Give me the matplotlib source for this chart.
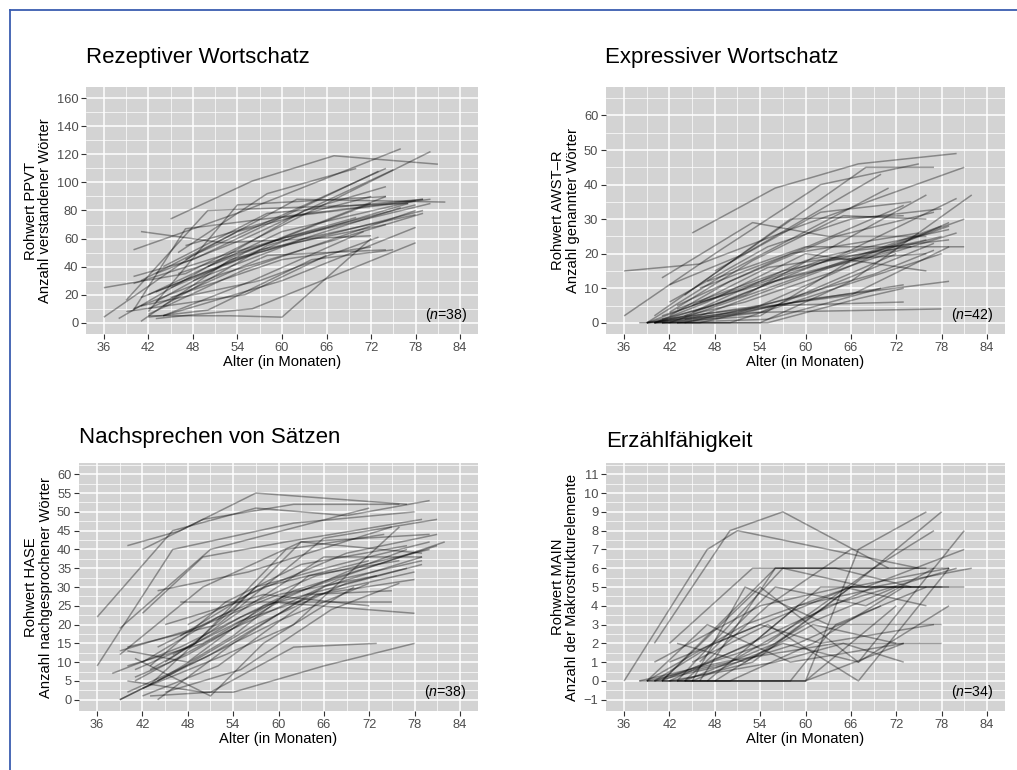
import matplotlib
matplotlib.use("Agg")
import matplotlib.pyplot as plt
from matplotlib.lines import Line2D
import numpy as np

plt.rcParams['font.family'] = ['Liberation Sans', 'DejaVu Sans']
plt.rcParams['mathtext.fontset'] = 'custom'
plt.rcParams['mathtext.rm'] = 'Liberation Sans'
plt.rcParams['mathtext.it'] = 'Liberation Sans:italic'

# ---------------- data: age in months / raw score per child ----------------
ppvt_age = [
    [45, 56, 67, 81], [40, 55, 76], [36, 48, 74], [36, 47, 80], [38, 50, 74],
    [41, 52, 72], [42, 53, 60, 72], [43, 56, 78], [44, 60, 78], [39, 50, 77],
    [42, 54, 74], [40, 47, 79], [41, 53, 79], [40, 48, 73], [42, 60, 78],
    [44, 58, 77], [43, 55, 72], [40, 52, 79], [41, 54, 76], [45, 62, 80],
    [42, 55, 78], [46, 60, 78], [43, 57, 74], [40, 52, 70], [44, 58, 79],
    [47, 62, 82], [42, 58, 74], [45, 60, 72], [41, 57, 73], [48, 63, 78],
    [43, 55, 75], [46, 58, 70], [44, 56, 71], [39, 55, 66], [41, 54, 72],
    [47, 60, 80], [50, 63, 74], [42, 50, 64, 75],
]
ppvt_raw = [
    [74, 101, 119, 113], [52, 80, 124], [4, 48, 110], [25, 35, 122], [3, 40, 90],
    [65, 57, 62], [5, 5, 4, 60], [3, 10, 57], [5, 30, 68], [16, 80, 85],
    [8, 84, 90], [9, 67, 88], [1, 45, 80], [33, 45, 108], [20, 65, 87],
    [12, 55, 85], [15, 50, 85], [10, 35, 78], [18, 45, 82], [25, 62, 85],
    [6, 38, 80], [35, 60, 84], [22, 52, 70], [28, 48, 75], [40, 78, 88],
    [45, 88, 86], [10, 48, 52], [18, 45, 54], [12, 30, 61], [30, 60, 77],
    [35, 60, 109], [50, 92, 110], [5, 30, 65], [8, 20, 48], [30, 65, 90],
    [55, 75, 88], [40, 80, 97], [4, 9, 45, 52],
]

awst_age = [
    [45, 56, 67, 80], [36, 46, 58, 81], [36, 48, 62, 75], [41, 53, 63, 76],
    [42, 52, 70], [40, 55, 68, 77], [39, 50, 71], [40, 52, 76], [39, 48, 65, 80],
    [41, 54, 66, 82], [43, 56, 73], [44, 58, 73], [39, 54, 79], [40, 46, 62, 81],
    [42, 55, 78], [45, 60, 79], [41, 52, 66, 79], [40, 50, 64, 78], [43, 54, 72],
    [39, 49, 61, 79], [44, 56, 73], [41, 53, 78], [42, 50, 64, 77], [46, 58, 75],
    [40, 52, 68, 80], [43, 57, 76], [38, 46, 56, 73], [44, 60, 77], [47, 60, 81],
    [42, 55, 66, 78], [40, 47, 60, 76], [45, 55, 74], [41, 52, 67, 79],
    [39, 51, 69, 77], [43, 55, 67, 73], [46, 59, 78], [42, 53, 65, 76],
    [44, 56, 72], [40, 54, 66, 79], [48, 62, 74], [39, 50, 62, 76], [41, 55, 70],
]
awst_raw = [
    [26, 39, 46, 49], [15, 17, 27, 45], [2, 20, 40, 46], [13, 29, 25, 25],
    [11, 20, 43], [2, 25, 45, 45], [0, 15, 39], [0, 8, 37], [0, 5, 20, 36],
    [0, 0, 12, 37], [5, 18, 34], [8, 30, 31], [0, 5, 29], [0, 2, 15, 30],
    [0, 10, 28], [3, 18, 27], [1, 4, 8, 22], [0, 0, 10, 20], [0, 3, 20],
    [0, 2, 7, 12], [1, 5, 6], [0, 3, 4], [2, 12, 25, 32], [10, 20, 26],
    [0, 6, 18, 26], [4, 15, 24], [0, 0, 5, 11], [0, 8, 23], [12, 22, 22],
    [6, 22, 30, 33], [0, 6, 20, 15], [5, 16, 22], [2, 10, 21, 24],
    [0, 3, 14, 21], [0, 0, 7, 10], [6, 14, 25], [3, 18, 31, 30],
    [2, 12, 21], [0, 2, 18, 28], [15, 32, 35], [0, 9, 18, 20], [0, 1, 10],
]

hase_age = [
    [40, 47, 57, 77], [42, 50, 62, 76], [36, 46, 57, 69, 80], [36, 46, 62, 78],
    [39, 51, 72], [42, 50, 61, 79], [40, 52, 66, 81], [44, 56, 75],
    [39, 50, 63, 80], [38, 47, 60, 82], [40, 50, 62, 81], [39, 51, 66, 79],
    [41, 53, 68, 79], [40, 48, 58, 79], [42, 52, 65, 78], [43, 55, 69, 77],
    [44, 54, 64, 75], [41, 48, 60, 75], [45, 58, 72], [47, 59, 78],
    [40, 50, 54, 66, 78], [43, 51, 62, 73], [39, 46, 57, 69, 77], [42, 53, 62, 76],
    [45, 56, 66, 79], [41, 49, 61, 74], [43, 57, 68, 80], [46, 55, 67, 78],
    [40, 50, 60, 72], [44, 54, 63, 79], [48, 58, 72], [42, 52, 65, 80],
    [39, 49, 60, 73], [41, 51, 58, 70], [44, 54, 64, 76], [47, 56, 69, 81],
    [45, 55, 67, 76], [43, 53, 63, 77],
]
hase_raw = [
    [41, 45, 55, 52], [40, 48, 52, 52], [22, 45, 51, 49, 53], [9, 40, 47, 50],
    [19, 40, 51], [23, 38, 42, 48], [14, 20, 43, 48], [29, 34, 46],
    [12, 30, 42, 44], [7, 14, 27, 42], [9, 15, 29, 41], [0, 12, 30, 38],
    [5, 18, 32, 37], [13, 10, 25, 36], [1, 9, 28, 32], [8, 22, 34, 40],
    [0, 15, 28, 29], [6, 12, 26, 26], [20, 28, 25], [26, 26, 23],
    [5, 2, 2, 9, 15], [1, 2, 14, 15], [0, 7, 20, 31, 35], [3, 12, 20, 46],
    [10, 25, 38, 38], [8, 15, 40, 44], [4, 30, 36, 42], [12, 21, 29, 34],
    [2, 11, 21, 31], [14, 24, 42, 39], [20, 30, 37], [10, 22, 33, 40],
    [13, 19, 28, 33], [11, 1, 15, 30], [5, 17, 33, 37], [17, 28, 39, 44],
    [2, 8, 24, 31], [9, 26, 36, 41],
]

main_age = [
    [36, 47, 51, 75], [40, 50, 57, 71], [42, 53, 65, 79], [46, 56, 76],
    [38, 60, 67, 76], [39, 52, 66, 78], [40, 55, 69, 77], [41, 54, 67, 81],
    [43, 57, 68, 81], [44, 56, 66, 79], [39, 50, 63, 80], [42, 58, 69, 82],
    [45, 55, 67, 79], [40, 48, 66, 78], [43, 53, 66, 79], [41, 51, 60, 73],
    [44, 60, 72], [38, 49, 64, 78], [47, 59, 70, 81], [42, 56, 65, 73],
    [45, 57, 67, 79], [40, 54, 65, 76], [43, 52, 61, 72], [46, 56, 68, 77],
    [39, 58, 64, 76], [41, 53, 62, 75], [44, 55, 66, 79], [42, 54, 62, 77],
    [48, 60, 72], [40, 51, 59, 70], [45, 52, 63, 78], [43, 50, 61, 73],
    [41, 56, 64, 74], [39, 47, 58, 73],
]
main_raw = [
    [0, 7, 8, 6], [2, 8, 9, 6], [2, 6, 6, 6], [0, 6, 6],
    [0, 0, 7, 9], [0, 3, 5, 9], [0, 2, 6, 8], [0, 5, 1, 8],
    [0, 6, 5, 7], [0, 2, 5, 6], [0, 1, 4, 6], [0, 3, 5, 6],
    [1, 3, 0, 6], [0, 2, 5, 5], [0, 1, 5, 5], [0, 0, 0, 2],
    [0, 0, 4], [0, 1, 2, 2], [0, 4, 5, 5], [0, 1, 2, 1],
    [0, 2, 1, 4], [1, 4, 5, 4], [2, 1, 3, 2], [1, 5, 4, 6],
    [0, 0, 3, 5], [0, 2, 5, 5], [0, 4, 7, 7], [1, 3, 2, 3],
    [0, 3, 5], [0, 1, 2, 4], [0, 5, 3, 3], [0, 0, 2, 5],
    [0, 6, 6, 5], [0, 3, 1, 2],
]

titles = ["Rezeptiver Wortschatz", "Expressiver Wortschatz",
          "Nachsprechen von Sätzen", "Erzählfähigkeit"]
ylabels = ["Rohwert PPVT\nAnzahl verstandener Wörter",
           "Rohwert AWST\u2013R\nAnzahl genannter Wörter",
           "Rohwert HASE\nAnzahl nachgesprochener Wörter",
           "Rohwert MAIN\nAnzahl der Makrostrukturelemente"]
n_children = [38, 42, 38, 34]
x_ticks = [36, 42, 48, 54, 60, 66, 72, 78, 84]
y_ticks = [list(range(0, 161, 20)), list(range(0, 61, 10)),
           list(range(0, 61, 5)), list(range(-1, 12, 1))]
y_limits = [(0, 160), (0, 65), (0, 60), (-1, 11)]
xlabel = "Alter (in Monaten)"

panels = [(ppvt_age, ppvt_raw), (awst_age, awst_raw),
          (hase_age, hase_raw), (main_age, main_raw)]

# ---------------- layout ----------------
W, H = 1017, 770
fig = plt.figure(figsize=(W / 100, H / 100), dpi=100)
fig.patch.set_facecolor("white")

# axes boxes in pixels: left, top, right, bottom
boxes = [(86, 87, 478, 334), (606, 87, 1005, 334),
         (79, 463, 478, 711), (606, 463, 1005, 711)]
title_pos = [(86, 58), (605, 58), (79, 438), (606, 442)]

BG = "#d3d3d3"
TICKC = "#4d4d4d"

def expand(lo, hi, f=0.05):
    r = hi - lo
    return lo - f * r, hi + f * r

for i, ((ages, raws), box) in enumerate(zip(panels, boxes)):
    l, t, r, b = box
    ax = fig.add_axes([l / W, 1 - b / H, (r - l) / W, (b - t) / H])
    ax.set_facecolor(BG)
    for s in ax.spines.values():
        s.set_visible(False)

    xlo, xhi = expand(36, 84)
    ylo, yhi = expand(*y_limits[i])
    ax.set_xlim(xlo, xhi)
    ax.set_ylim(ylo, yhi)

    ax.set_xticks(x_ticks)
    ax.set_xticks([v + 3 for v in x_ticks[:-1]], minor=True)
    yt = y_ticks[i]
    ax.set_yticks(yt)
    step = yt[1] - yt[0]
    ymin = [v + step / 2 for v in yt]
    ax.set_yticks([v for v in ymin if v < yhi], minor=True)

    ax.grid(which="major", color="white", lw=1.1)
    ax.grid(which="minor", color="white", lw=0.5)
    ax.set_axisbelow(True)
    ax.tick_params(which="major", length=3.5, width=0.8, color="#333333",
                   labelsize=9.3, labelcolor=TICKC, pad=2)
    ax.tick_params(which="minor", length=0)

    for a, v in zip(ages, raws):
        ax.plot(a, v, color="black", alpha=0.36, lw=1.1, solid_capstyle="butt")

    ax.set_xlabel(xlabel, fontsize=10.6, labelpad=1)
    ax.set_ylabel(ylabels[i], fontsize=10.6, labelpad=3, linespacing=1.05)

    ax.text(0.972, 0.075, r"($\mathit{n}$=%d)" % n_children[i],
            transform=ax.transAxes, ha="right", va="center", fontsize=10.2)

    tx, ty = title_pos[i]
    fig.text(tx / W, 1 - ty / H, titles[i], fontsize=16, ha="left", va="center")

# border lines along top and left edges
bc = "#3a5db0"
fig.add_artist(Line2D([10 / W, 1], [1 - 9.5 / H, 1 - 9.5 / H],
                      transform=fig.transFigure, color=bc, lw=1.3))
fig.add_artist(Line2D([9.5 / W, 9.5 / W], [0, 1 - 9.5 / H],
                      transform=fig.transFigure, color=bc, lw=1.3))

fig.savefig("out.png", dpi=100)
